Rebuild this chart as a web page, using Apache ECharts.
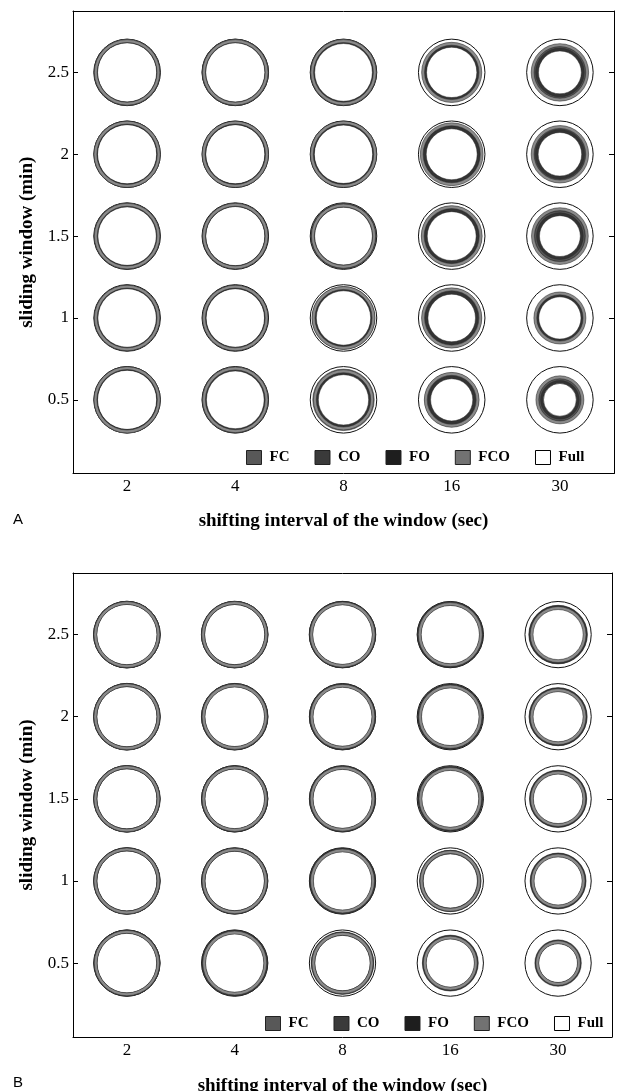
<!DOCTYPE html>
<html>
<head>
<meta charset="utf-8">
<script src="https://cdn.jsdelivr.net/npm/echarts@6/dist/echarts.min.js"></script>
<style>
html,body{margin:0;padding:0;background:#fff;}
#c{width:623px;height:1091px;}
</style>
</head>
<body>
<div id="c"></div>
<script>
// ---- categories / ticks ----
const shiftCats = ['2', '4', '8', '16', '30'];          // shifting interval (sec)
const windowRows = [2.5, 2, 1.5, 1, 0.5];               // sliding window (min), top -> bottom
const yTicks = [0.5, 1, 1.5, 2, 2.5];
const methods = ['Full', 'FC', 'CO', 'FO', 'FCO'];      // drawing order (Full at the back)
const legendOrder = ['FC', 'CO', 'FO', 'FCO', 'Full'];

// ---- relative circle radii (Full = 1); rows = windowRows, cols = shiftCats ----
// Panel A
const A_FC = [
  [0.99, 0.99, 0.99, 0.88, 0.84],
  [0.99, 0.98, 0.98, 0.92, 0.84],
  [0.98, 0.98, 0.98, 0.90, 0.83],
  [0.98, 0.98, 0.94, 0.89, 0.76],
  [0.99, 0.99, 0.92, 0.81, 0.70]
];
const A_CO = [
  [0.98, 0.99, 0.97, 0.86, 0.78],
  [0.98, 0.98, 0.97, 0.88, 0.77],
  [0.99, 0.98, 0.97, 0.85, 0.76],
  [0.98, 0.97, 0.92, 0.85, 0.74],
  [0.98, 0.97, 0.88, 0.76, 0.64]
];
const A_FO = [
  [0.97, 0.97, 0.95, 0.84, 0.73],
  [0.97, 0.97, 0.96, 0.85, 0.74],
  [0.96, 0.97, 0.95, 0.82, 0.70],
  [0.96, 0.96, 0.90, 0.80, 0.72],
  [0.97, 0.95, 0.84, 0.72, 0.58]
];
const A_FCO = [
  [0.98, 0.98, 0.98, 0.90, 0.86],
  [0.99, 0.99, 0.99, 0.94, 0.86],
  [0.98, 0.98, 0.96, 0.91, 0.85],
  [0.98, 0.98, 0.94, 0.90, 0.78],
  [0.99, 0.98, 0.90, 0.82, 0.72]
];
const A_FULL = [
  [1, 1, 1, 1, 1],
  [1, 1, 1, 1, 1],
  [1, 1, 1, 1, 1],
  [1, 1, 1, 1, 1],
  [1, 1, 1, 1, 1]
];
// Panel B
const B_FC = [
  [1.00, 1.00, 0.99, 0.98, 0.87],
  [1.00, 1.00, 0.99, 0.97, 0.87],
  [1.00, 0.99, 0.99, 0.96, 0.85],
  [1.00, 0.99, 0.98, 0.92, 0.84],
  [0.99, 0.98, 0.94, 0.84, 0.70]
];
const B_CO = [
  [1.00, 1.00, 0.99, 0.97, 0.86],
  [1.00, 0.99, 0.98, 0.96, 0.85],
  [0.99, 0.99, 0.98, 0.95, 0.84],
  [0.99, 0.98, 0.97, 0.90, 0.82],
  [0.99, 0.97, 0.92, 0.82, 0.68]
];
const B_FO = [
  [1.00, 0.99, 1.00, 0.99, 0.88],
  [0.99, 0.99, 0.99, 0.98, 0.87],
  [0.99, 0.99, 0.98, 0.98, 0.86],
  [0.99, 0.99, 0.99, 0.92, 0.83],
  [0.99, 0.99, 0.93, 0.83, 0.68]
];
const B_FCO = [
  [0.99, 0.99, 0.98, 0.96, 0.84],
  [0.99, 0.98, 0.97, 0.95, 0.84],
  [0.99, 0.98, 0.97, 0.94, 0.83],
  [0.99, 0.98, 0.96, 0.91, 0.81],
  [0.98, 0.96, 0.92, 0.81, 0.67]
];
const B_FULL = [
  [1, 1, 1, 1, 1],
  [1, 1, 1, 1, 1],
  [1, 1, 1, 1, 1],
  [1, 1, 1, 1, 1],
  [1, 1, 1, 1, 1]
];

const panelData = [
  { Full: A_FULL, FC: A_FC, CO: A_CO, FO: A_FO, FCO: A_FCO },
  { Full: B_FULL, FC: B_FC, CO: B_CO, FO: B_FO, FCO: B_FCO }
];

// ---- styles ----
const legendFills = { FC: '#585858', CO: '#3a3a3a', FO: '#1e1e1e', FCO: '#727272', Full: '#ffffff' };
const ringFills = { FC: '#707070', CO: '#545454', FO: '#333333', FCO: '#8a8a8a', Full: '#ffffff' };
const RADIUS_FRAC = 0.312;   // full radius as fraction of a category band
const RING_W = 3.2;          // ring thickness in px
const SERIF = 'Liberation Serif';

function toItems(mat) {
  const out = [];
  mat.forEach((row, ri) => row.forEach((v, ci) => out.push([ci, windowRows[ri], v])));
  return out;
}

function makeRender(name) {
  return function (params, api) {
    const c = api.coord([api.value(0), api.value(1)]);
    const band = api.size([1, 0])[0];
    const r = api.value(2) * band * RADIUS_FRAC;
    if (name === 'Full') {
      return {
        type: 'circle',
        shape: { cx: c[0], cy: c[1], r: r - 0.5 },
        style: { fill: null, stroke: '#111', lineWidth: 1 }
      };
    }
    return {
      type: 'ring',
      shape: { cx: c[0], cy: c[1], r: r - 0.3, r0: Math.max(r - RING_W, 0) },
      style: { fill: ringFills[name], stroke: '#2a2a2a', lineWidth: 0.5 }
    };
  };
}

const series = [];
[0, 1].forEach(p => {
  methods.forEach(m => {
    series.push({
      type: 'custom',
      name: m,
      xAxisIndex: p * 2,
      yAxisIndex: p * 2,
      renderItem: makeRender(m),
      itemStyle: { color: legendFills[m] },
      data: toItems(panelData[p][m]),
      silent: true,
      animation: false
    });
  });
});

const grids = [
  { left: 73, top: 11, width: 541, height: 462.5, outerBoundsMode: 'none', containLabel: false },
  { left: 73, top: 573, width: 539, height: 464, outerBoundsMode: 'none', containLabel: false }
];
const nameGaps = [38, 40];

const xAxes = [], yAxes = [];
[0, 1].forEach(p => {
  xAxes.push({
    type: 'category', gridIndex: p, data: shiftCats, boundaryGap: true,
    position: 'bottom',
    axisLine: { lineStyle: { color: '#000', width: 1 } },
    axisTick: { alignWithLabel: true, inside: true, length: 5, lineStyle: { color: '#000' } },
    axisLabel: { color: '#000', fontFamily: SERIF, fontSize: 17, margin: 5 },
    splitLine: { show: false },
    name: 'shifting interval of the window (sec)',
    nameLocation: 'middle', nameGap: nameGaps[p],
    nameTextStyle: { color: '#000', fontFamily: SERIF, fontWeight: 'bold', fontSize: 19 }
  });
  xAxes.push({
    type: 'category', gridIndex: p, data: shiftCats, boundaryGap: true,
    position: 'top',
    axisLine: { lineStyle: { color: '#000', width: 1 } },
    axisTick: { alignWithLabel: true, inside: true, length: 5, lineStyle: { color: '#000' } },
    axisLabel: { show: false },
    splitLine: { show: false }
  });
  yAxes.push({
    type: 'value', gridIndex: p, min: 0.05, max: 2.875, position: 'left',
    axisLine: { show: true, lineStyle: { color: '#000', width: 1 } },
    axisTick: { show: true, inside: true, length: 5, customValues: yTicks, lineStyle: { color: '#000' } },
    axisLabel: { color: '#000', fontFamily: SERIF, fontSize: 17, margin: 4, customValues: yTicks },
    splitLine: { show: false },
    name: 'sliding window (min)',
    nameLocation: 'middle', nameGap: 29,
    nameTextStyle: { color: '#000', fontFamily: SERIF, fontWeight: 'bold', fontSize: 19 }
  });
  yAxes.push({
    type: 'value', gridIndex: p, min: 0.05, max: 2.875, position: 'right',
    axisLine: { show: true, lineStyle: { color: '#000', width: 1 } },
    axisTick: { show: true, inside: true, length: 5, customValues: yTicks, lineStyle: { color: '#000' } },
    axisLabel: { show: false },
    splitLine: { show: false }
  });
});

function legendFor(left, top) {
  return {
    left: left, top: top, width: 380, orient: 'horizontal', padding: 0,
    itemWidth: 15, itemHeight: 14, itemGap: 25, selectedMode: false,
    textStyle: { color: '#000', fontFamily: SERIF, fontWeight: 'bold', fontSize: 15, padding: [0, 0, 0, 3] },
    data: legendOrder.map(n => ({
      name: n, icon: 'rect',
      itemStyle: { color: legendFills[n], borderColor: n === 'Full' ? '#000' : '#222', borderWidth: 1 }
    }))
  };
}

const option = {
  backgroundColor: '#fff',
  animation: false,
  grid: grids,
  xAxis: xAxes,
  yAxis: yAxes,
  legend: [legendFor(246, 450), legendFor(265, 1016)],
  graphic: [
    { type: 'text', left: 13, top: 512, style: { text: 'A', fontFamily: 'Liberation Sans', fontSize: 15, fill: '#000' } },
    { type: 'text', left: 13, top: 1075, style: { text: 'B', fontFamily: 'Liberation Sans', fontSize: 15, fill: '#000' } }
  ],
  series: series
};

const chart = echarts.init(document.getElementById('c'));
chart.setOption(option);
</script>
</body>
</html>
